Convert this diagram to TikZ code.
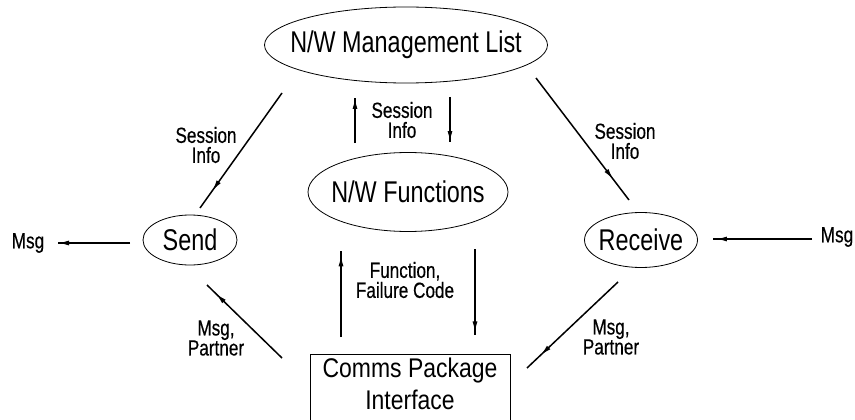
\documentclass[tikz,border=0pt]{standalone}
\usepackage{fontspec}
\setmainfont{Liberation Sans}[FakeStretch=0.85]
\newfontfamily\narrowfont{Liberation Sans}[FakeStretch=0.78]
\newfontfamily\labelfont{Liberation Sans}[FakeStretch=0.78,FakeBold=0.4]
\usetikzlibrary{arrows.meta,decorations.markings,shapes.geometric}

\begin{document}
\begin{tikzpicture}[x=1pt,y=-1pt,
  big/.style={font=\narrowfont\fontsize{30}{34}\selectfont},
  boxtext/.style={font=\fontsize{27}{32}\selectfont},
  small/.style={font=\labelfont\fontsize{22}{20}\selectfont, align=center, inner sep=0pt},
  oval/.style={ellipse, draw, line width=0.8pt, inner sep=0pt},
  conn/.style={line width=1.5pt},
  arrowat/.style={postaction={decorate},
    decoration={markings, mark=at position #1 with {\arrow{Latex[length=11pt,width=5pt]}}}},
]
\useasboundingbox (0,0) rectangle (855,420);
\clip (0,0) rectangle (855,420);

% ---- processes ----
\node[oval, minimum width=283pt, minimum height=76pt,
      label={[big]center:N/W Management List}] (mgmt) at (406,45) {};
\node[oval, minimum width=200pt, minimum height=79pt,
      label={[big]center:N/W Functions}] (func) at (408,192) {};
\node[oval, minimum width=94pt, minimum height=50pt,
      label={[big]center:Send}] (send) at (190,240) {};
\node[oval, minimum width=113pt, minimum height=55pt,
      label={[big]center:Receive}] (recv) at (641,240) {};
\node[draw, line width=0.8pt, boxtext, align=center, anchor=north,
      minimum width=200pt, inner ysep=4pt, text depth=60pt] (cpi) at (410,354)
      {Comms Package\\Interface};

% ---- flow labels ----
\node[small] (siL) at (206,145) {Session\\Info};
\node[small] (siM) at (402,120) {Session\\Info};
\node[small] (siR) at (625,141) {Session\\Info};
\node[small] (ffc) at (405,280) {Function,\\Failure Code};
\node[small] (mpL) at (216,338) {Msg,\\Partner};
\node[small] (mpR) at (611,337) {Msg,\\Partner};
\node[small] (msgL) at (28,243) {Msg};
\node[small] (msgR) at (837,237) {Msg};

% ---- connector end points ----
\coordinate (mgmtSW) at (282,93);   \coordinate (sendN)  at (200,208);
\coordinate (mgmtSE) at (536,78);   \coordinate (recvN)  at (629,200);
\coordinate (cpiNW)  at (282,358);  \coordinate (sendS)  at (207,285);
\coordinate (recvS)  at (618,282);  \coordinate (cpiNE)  at (527,368);
\coordinate (funcNL) at (355,143);  \coordinate (mgmtBL) at (355,98);
\coordinate (mgmtBR) at (450,97);   \coordinate (funcNR) at (450,142);
\coordinate (cpiTL)  at (341,337);  \coordinate (funcSL) at (341,251);
\coordinate (funcSR) at (475,249);  \coordinate (cpiTR)  at (475,335);
\coordinate (sendW)  at (130,243);  \coordinate (msgLE)  at (58,243);
\coordinate (msgRW)  at (812,239);  \coordinate (recvE)  at (713,239);

% ---- connectors ----
\draw[conn, arrowat=0.85] (mgmtSW) -- (sendN);
\draw[conn, arrowat=0.83] (mgmtSE) -- (recvN);
\draw[conn, arrowat=0.88] (cpiNW) -- (sendS);
\draw[conn, arrowat=0.85] (recvS) -- (cpiNE);
\draw[conn, arrowat=1] (funcNL) -- (mgmtBL);
\draw[conn, arrowat=1] (mgmtBR) -- (funcNR);
\draw[conn, arrowat=0.95] (cpiTL) -- (funcSL);
\draw[conn, arrowat=0.97] (funcSR) -- (cpiTR);
\draw[conn, arrowat=1] (sendW) -- (msgLE);
\draw[conn, arrowat=0.97] (msgRW) -- (recvE);
\end{tikzpicture}
\end{document}
